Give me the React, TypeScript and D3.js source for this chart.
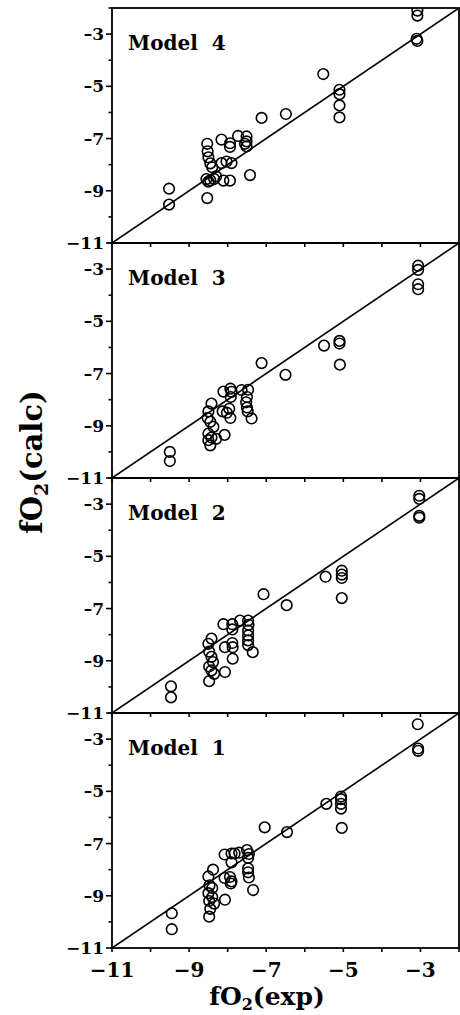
import React, { useEffect } from "react";
import * as d3 from "d3";

// Data: [fO2(exp), fO2(calc)] per model panel (top to bottom: Model 4, 3, 2, 1)
const modelNames = ["Model 4", "Model 3", "Model 2", "Model 1"];

const model4: [number, number][] = [
  [-9.52, -8.92], [-9.52, -9.53], [-8.53, -9.28],
  [-8.53, -7.2], [-8.52, -7.49], [-8.5, -7.72], [-8.45, -7.95], [-8.4, -8.1],
  [-8.55, -8.55], [-8.45, -8.6], [-8.35, -8.55], [-8.3, -8.45], [-8.5, -8.65],
  [-8.16, -7.04], [-7.94, -7.18], [-7.94, -7.32], [-7.73, -6.9], [-7.51, -6.92],
  [-7.51, -7.11], [-7.51, -7.3], [-7.55, -7.2],
  [-8.16, -7.94], [-8.03, -7.88], [-7.9, -7.94],
  [-8.11, -8.61], [-7.94, -8.61], [-7.42, -8.4],
  [-7.12, -6.21], [-6.49, -6.06], [-5.52, -4.53],
  [-5.1, -5.13], [-5.1, -5.3], [-5.1, -5.73], [-5.1, -6.19],
  [-3.08, -2.1], [-3.08, -2.29], [-3.1, -3.18], [-3.08, -3.26],
];

const model3: [number, number][] = [
  [-9.5, -10.0], [-9.5, -10.35],
  [-8.42, -8.15], [-8.5, -8.45], [-8.52, -8.7], [-8.45, -8.85], [-8.37, -9.04],
  [-8.5, -9.3], [-8.42, -9.45], [-8.5, -9.55], [-8.45, -9.75], [-8.3, -9.5],
  [-8.08, -9.35],
  [-8.13, -8.45], [-8.02, -8.5], [-7.93, -8.7], [-7.96, -8.35],
  [-8.11, -7.69], [-7.93, -7.58], [-7.9, -7.7], [-7.92, -7.9],
  [-7.64, -7.63], [-7.47, -7.62], [-7.5, -7.9], [-7.52, -8.1], [-7.5, -8.3],
  [-7.48, -8.45], [-7.38, -8.72],
  [-7.12, -6.6], [-6.5, -7.05],
  [-5.5, -5.93], [-5.1, -5.75], [-5.1, -5.85], [-5.09, -6.66],
  [-3.06, -2.87], [-3.06, -3.03], [-3.06, -3.58], [-3.06, -3.77],
];

const model2: [number, number][] = [
  [-9.47, -9.98], [-9.47, -10.4],
  [-8.42, -8.15], [-8.5, -8.35], [-8.48, -8.65], [-8.42, -8.85], [-8.38, -9.05],
  [-8.48, -9.22], [-8.42, -9.37], [-8.35, -9.5], [-8.48, -9.78], [-8.07, -9.43],
  [-8.07, -8.48], [-7.88, -8.32], [-7.87, -8.48], [-7.87, -8.92],
  [-8.11, -7.6], [-7.88, -7.6], [-7.88, -7.8],
  [-7.68, -7.46], [-7.47, -7.46], [-7.46, -7.62], [-7.47, -7.84], [-7.47, -8.03],
  [-7.47, -8.22], [-7.47, -8.4], [-7.35, -8.67],
  [-7.07, -6.45], [-6.47, -6.87],
  [-5.46, -5.78], [-5.04, -5.55], [-5.04, -5.7], [-5.04, -5.83], [-5.04, -6.6],
  [-3.03, -2.68], [-3.03, -2.8], [-3.03, -3.45], [-3.03, -3.52],
];

const model1: [number, number][] = [
  [-9.45, -9.67], [-9.45, -10.28],
  [-8.38, -8.0], [-8.5, -8.26], [-8.47, -8.6], [-8.4, -8.7], [-8.5, -8.9],
  [-8.4, -9.05], [-8.48, -9.2], [-8.35, -9.3], [-8.45, -9.5], [-8.48, -9.8],
  [-8.07, -9.15],
  [-8.08, -8.32], [-7.94, -8.28], [-7.9, -8.45], [-7.92, -8.53],
  [-8.08, -7.42], [-7.9, -7.38], [-7.82, -7.38], [-7.7, -7.35], [-7.5, -7.25],
  [-7.45, -7.4],
  [-7.9, -7.72], [-7.47, -7.55], [-7.47, -7.95], [-7.47, -8.1], [-7.45, -8.3],
  [-7.34, -8.78],
  [-7.04, -6.38], [-6.46, -6.56],
  [-5.44, -5.48], [-5.06, -5.2], [-5.06, -5.3], [-5.06, -5.48], [-5.06, -5.66],
  [-5.04, -6.4],
  [-3.07, -2.43], [-3.06, -3.36], [-3.06, -3.45],
];

const panelData = [model4, model3, model2, model1];

const domainMin = -11;
const domainMax = -2;
const tickValues = d3.range(-11, -1); // -11..-2
const labelTicks = [-11, -9, -7, -5, -3];
const yTickLabels = ["\u221211", "\u20139", "\u20137", "\u20135", "\u20133"];
const xTickLabels = ["\u221211", "\u22129", "\u22127", "\u22125", "\u22123"];

const W = 460;
const H = 1015;
const left = 112;
const right = 459;
const firstTop = 8;
const panelH = 235;

const font = "'DejaVu Serif', serif";

function Panel({ index, data, name }: { index: number; data: [number, number][]; name: string }) {
  const top = firstTop + index * panelH;
  const x = d3.scaleLinear().domain([domainMin, domainMax]).range([left, right]);
  const y = d3.scaleLinear().domain([domainMin, domainMax]).range([top + panelH, top]);
  const clipId = `clip-${index}`;
  const line = d3.line<number>().x((v) => x(v)).y((v) => y(v));
  return (
    <g>
      <defs>
        <clipPath id={clipId}>
          <rect x={left} y={top} width={right - left} height={panelH} />
        </clipPath>
      </defs>
      <g clipPath={`url(#${clipId})`}>
        <path d={line([domainMin, domainMax]) || ""} stroke="#000" strokeWidth={1.6} fill="none" />
        {data.map((d, i) => (
          <circle key={i} cx={x(d[0])} cy={y(d[1])} r={5.3} fill="none" stroke="#000" strokeWidth={1.6} />
        ))}
      </g>
      <rect x={left} y={top} width={right - left} height={panelH} fill="none" stroke="#000" strokeWidth={1.8} />
      {tickValues.map((t) => {
        const major = Math.abs(t) % 2 === 1;
        return (
          <line key={`yt${t}`} x1={left - (major ? 6 : 3.5)} x2={left} y1={y(t)} y2={y(t)} stroke="#000" strokeWidth={1.6} />
        );
      })}
      {tickValues.map((t) => (
        <line key={`xt${t}`} x1={x(t)} x2={x(t)} y1={top + panelH} y2={top + panelH + 4} stroke="#000" strokeWidth={1.6} />
      ))}
      {labelTicks.map((t, i) => (
        <text
          key={`yl${t}`}
          x={left - 8}
          y={y(t)}
          textAnchor="end"
          dominantBaseline="central"
          fontFamily={font}
          fontWeight="bold"
          fontSize={17}
        >
          {yTickLabels[i]}
        </text>
      ))}
      <text
        x={128}
        y={top + 42}
        fontFamily={font}
        fontWeight="bold"
        fontSize={20}
        style={{ whiteSpace: "pre" }}
      >
        {name.replace(" ", "  ")}
      </text>
    </g>
  );
}

export default function App() {
  useEffect(() => {
    document.body.style.margin = "0";
  }, []);
  const x = d3.scaleLinear().domain([domainMin, domainMax]).range([left, right]);
  const bottom = firstTop + 4 * panelH;
  return (
    <svg
      width={W}
      height={H}
      viewBox={`0 0 ${W} ${H}`}
      style={{ position: "absolute", left: 0, top: 0, background: "#fff" }}
    >
      <rect x={0} y={0} width={W} height={H} fill="#fff" />
      {panelData.map((d, i) => (
        <Panel key={i} index={i} data={d} name={modelNames[i]} />
      ))}
      {labelTicks.map((t, i) => (
        <text
          key={`xl${t}`}
          x={x(t)}
          y={bottom + 29}
          textAnchor="middle"
          fontFamily={font}
          fontWeight="bold"
          fontSize={20}
        >
          {xTickLabels[i]}
        </text>
      ))}
      <text x={267} y={1005} textAnchor="middle" fontFamily={font} fontWeight="bold" fontSize={25}>
        fO<tspan fontSize={16} dy={5}>2</tspan>
        <tspan dy={-5}>(exp)</tspan>
      </text>
      <text
        transform={`translate(42, 462) rotate(-90)`}
        textAnchor="middle"
        fontFamily={font}
        fontWeight="bold"
        fontSize={29}
      >
        fO<tspan fontSize={19} dy={6}>2</tspan>
        <tspan dy={-6}>(calc)</tspan>
      </text>
    </svg>
  );
}
